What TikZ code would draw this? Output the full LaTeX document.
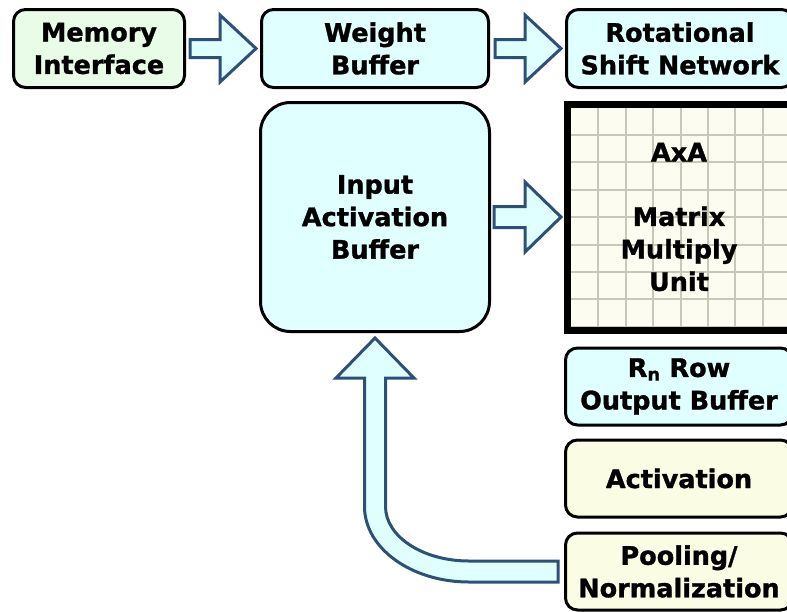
\documentclass[tikz,border=0pt]{standalone}
\usepackage{fontspec}
\setmainfont{DejaVu Sans}[BoldFeatures={FakeBold=1.2}]
\usetikzlibrary{positioning, calc}
\definecolor{memgreen}{RGB}{232,252,232}
\definecolor{buffcyan}{RGB}{224,255,255}
\definecolor{unitivory}{RGB}{250,252,228}
\definecolor{mmuivory}{RGB}{252,252,240}
\definecolor{gridgray}{RGB}{200,200,185}
\definecolor{arrowblue}{RGB}{44,80,120}
\tikzstyle{unit} = [rectangle, rounded corners=12pt, draw=black, line width=3pt, minimum width=227pt, minimum height=77pt, align=center, font=\bfseries\fontsize{25.5}{32.5}\selectfont]
\tikzstyle{gridline} = [draw=gridgray, line width=2pt]
\tikzstyle{matrixunit} = [unit, rounded corners=0pt, line width=7pt, fill=mmuivory, minimum width=223pt, minimum height=226pt,
  path picture={
    \foreach \k in {1,...,8} {
      \draw[gridline] ([xshift=3.5pt+\k*27.4pt]path picture bounding box.north west) -- ([xshift=3.5pt+\k*27.4pt]path picture bounding box.south west);
      \draw[gridline] ([yshift=-3.5pt-\k*27.4pt]path picture bounding box.north west) -- ([yshift=-3.5pt-\k*27.4pt]path picture bounding box.north east);
    }}]
\tikzstyle{fatarrow} = [draw=arrowblue, fill=buffcyan, line width=3pt, line join=miter]

\begin{document}
\begin{tikzpicture}[x=1pt, y=-1pt]
\useasboundingbox (0,0) rectangle (787,611);
\clip (0,0) rectangle (787,611);

\node (mem) [unit, fill=memgreen, minimum width=171pt, minimum height=78pt] at (99,48.5) {Memory\\Interface};

\node (weight) [unit, fill=buffcyan, minimum height=78pt, right=74pt of mem] {Weight\\Buffer};

\node (rot) [unit, fill=buffcyan, minimum height=78pt, right=75pt of weight] {Rotational\\Shift Network};

\node (inbuf) [unit, fill=buffcyan, rounded corners=30pt, minimum width=229pt, minimum height=229pt, below=12pt of weight] {Input\\Activation\\Buffer};

\node (mmu) [matrixunit, right=73pt of inbuf] {AxA\\[32pt]Matrix\\Multiply\\Unit};

\node (rn) [unit, fill=buffcyan, below=13pt of mmu] {R\textsubscript{n} Row\\Output Buffer};

\node (act) [unit, fill=unitivory, below=12pt of rn] {Activation};

\node (pool) [unit, fill=unitivory, below=13pt of act] {Pooling/\\Normalization};

\coordinate (bend) at (inbuf.south |- pool.west);

% Arrows
\draw [fatarrow] ($(mem.east)+(4,-9)$) -- ++(30,0) -- ++(0,-24.5) -- ++(36,33.5) -- ++(-36,33.5) -- ++(0,-24.5) -- ++(-30,0) -- cycle;
\draw [fatarrow] ($(weight.east)+(5,-9)$) -- ++(30,0) -- ++(0,-24.5) -- ++(36,33.5) -- ++(-36,33.5) -- ++(0,-24.5) -- ++(-30,0) -- cycle;
\draw [fatarrow] ($(inbuf.east)+(3,-10.5)$) -- ++(31,0) -- ++(0,-24.5) -- ++(36,35) -- ++(-36,35) -- ++(0,-24.5) -- ++(-31,0) -- cycle;
\draw [fatarrow] ($(pool.west)+(-6,-10.5)$) -- ($(bend)+(94,-10.5)$)
  arc[start angle=90, end angle=180, x radius=83.5, y radius=54.5]
  -- ($(inbuf.south)+(10.5,45)$) -- ++(28.5,0) -- ($(inbuf.south)+(0,5)$) -- ($(inbuf.south)+(-39,45)$) -- ++(28.5,0)
  -- ($(bend)+(-10.5,-65)$)
  arc[start angle=180, end angle=90, x radius=104.5, y radius=75.5]
  -- ($(pool.west)+(-6,10.5)$) -- cycle;

\end{tikzpicture}
\end{document}
